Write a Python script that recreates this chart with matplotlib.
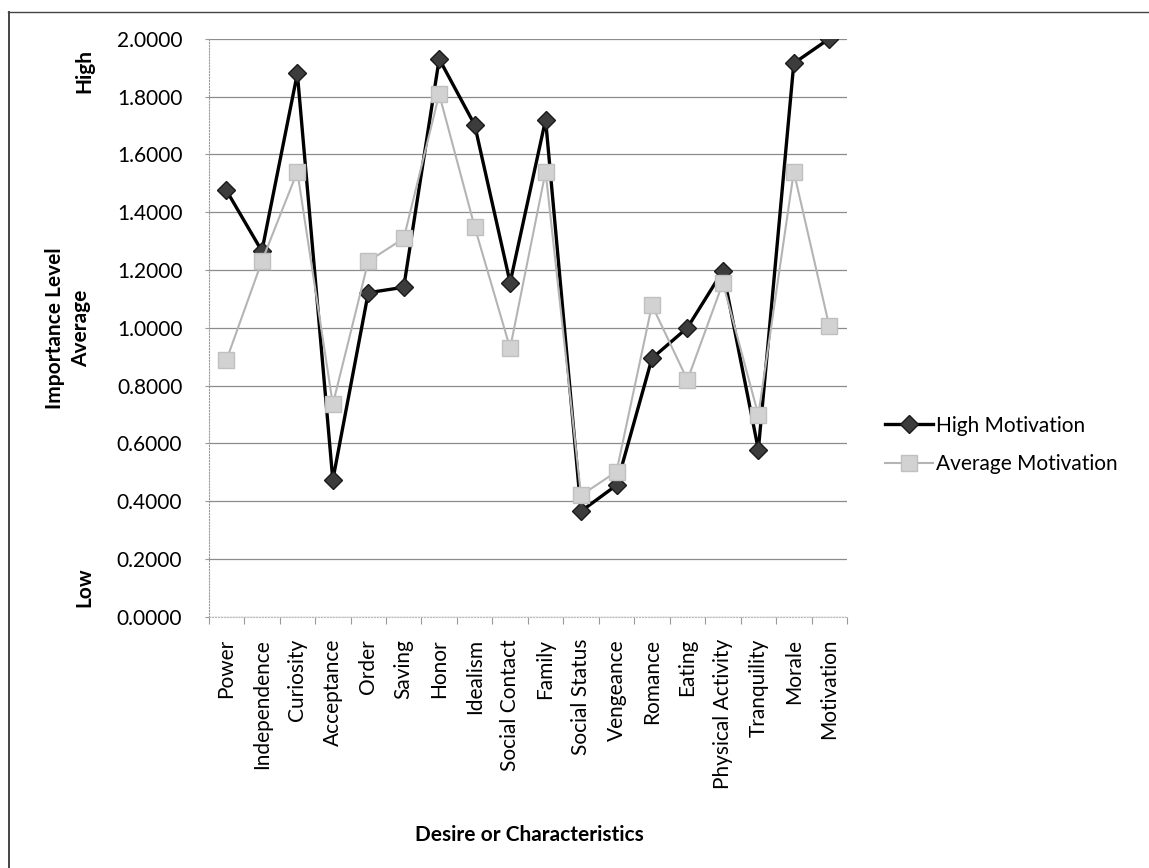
import matplotlib
matplotlib.use('Agg')
import matplotlib.pyplot as plt
from matplotlib.lines import Line2D
import numpy as np

plt.rcParams['font.family'] = ['Lato', 'DejaVu Sans']

# data
categories = ['Power', 'Independence', 'Curiosity', 'Acceptance', 'Order', 'Saving',
              'Honor', 'Idealism', 'Social Contact', 'Family', 'Social Status',
              'Vengeance', 'Romance', 'Eating', 'Physical Activity', 'Tranquility',
              'Morale', 'Motivation']
high_motivation = [1.475, 1.265, 1.880, 0.473, 1.121, 1.140, 1.930, 1.702, 1.156, 1.720,
                   0.365, 0.455, 0.894, 1.000, 1.197, 0.578, 1.915, 2.000]
average_motivation = [0.888, 1.230, 1.540, 0.735, 1.230, 1.309, 1.808, 1.349, 0.929, 1.540,
                      0.420, 0.502, 1.078, 0.819, 1.155, 0.698, 1.540, 1.005]
yticks = [0.0, 0.2, 0.4, 0.6, 0.8, 1.0, 1.2, 1.4, 1.6, 1.8, 2.0]

W, H = 1149, 868
fig = plt.figure(figsize=(W/100, H/100), dpi=100)
ax = fig.add_axes([208.7/W, 1-616.7/H, (847-208.7)/W, (616.7-38.7)/H])

x = np.arange(len(categories))
ax.plot(x, high_motivation, color='black', lw=2.4, marker='D', ms=9,
        mfc='#3c3c3c', mec='#1a1a1a', mew=1, label='High Motivation', zorder=3)
ax.plot(x, average_motivation, color='#b4b4b4', lw=1.5, marker='s', ms=11,
        mfc='#d2d2d2', mec='#c0c0c0', mew=1, label='Average Motivation', zorder=4)

ax.set_xlim(-0.5, len(categories)-0.5)
ax.set_ylim(0, 2.0)
ax.set_yticks(yticks)
ax.set_yticklabels(['%.4f' % v for v in yticks], fontsize=15)
ax.set_xticks(x)
ax.set_xticklabels(categories, rotation=90, fontsize=15)
ax.set_xticks(np.arange(-0.5, len(categories), 1), minor=True)
ax.tick_params(axis='x', which='major', length=0, pad=16)
ax.tick_params(axis='x', which='minor', length=5, color='#999999', width=0.8)
ax.tick_params(axis='y', length=3, color='#999999', pad=16)

ax.grid(axis='y', color='#8c8c8c', lw=0.9)
ax.set_axisbelow(True)
for s in ['top', 'right']:
    ax.spines[s].set_visible(False)
ax.spines['left'].set_color('#999999')
ax.spines['left'].set_linestyle(':')
ax.spines['bottom'].set_color('#bbbbbb')
ax.spines['bottom'].set_linestyle(':')

fig.text(529/W, 1-835/H, 'Desire or Characteristics', ha='center', va='center',
         fontsize=15, fontweight='bold')
fig.text(68/W, 1-328/H, 'Importance Level\nAverage', ha='center', va='center',
         rotation=90, fontsize=15, fontweight='bold', linespacing=1.35)
fig.text(84/W, 1-71/H, 'High', ha='center', va='center', rotation=90,
         fontsize=15, fontweight='bold')
fig.text(84/W, 1-587/H, 'Low', ha='center', va='center', rotation=90,
         fontsize=15, fontweight='bold')

fig.legend(loc='center left', bbox_to_anchor=(885/W, 1-445/H), frameon=False,
           fontsize=15, handlelength=2.3, handletextpad=0.15, borderpad=0,
           borderaxespad=0, labelspacing=0.9)

# outer frame: only top and left edges are visible
fig.lines.append(Line2D([8/W, 1], [1-12/H, 1-12/H], transform=fig.transFigure,
                        color='#444444', lw=1.0))
fig.lines.append(Line2D([9/W, 9/W], [0, 1-12/H], transform=fig.transFigure,
                        color='#444444', lw=1.4))

fig.savefig('out.png', dpi=100)
